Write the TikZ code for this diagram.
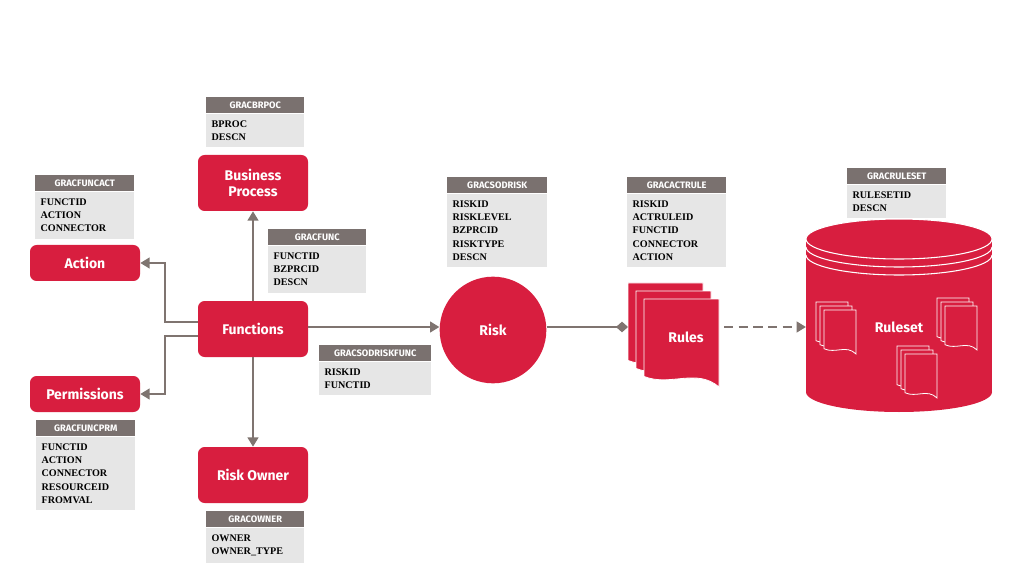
\documentclass[tikz,border=0pt]{standalone}
\usepackage{fontspec}
\setmainfont{Liberation Serif}
\newfontfamily\labelfont{Fira Sans}
\usetikzlibrary{arrows.meta}
\usetikzlibrary{positioning}
\definecolor{sapred}{HTML}{D81E3F}
\definecolor{headgray}{HTML}{7A716F}
\definecolor{bodygray}{HTML}{E6E6E6}
\definecolor{linegray}{HTML}{7F7470}
\tikzstyle{entity} = [rectangle, rounded corners=5pt, minimum width=82.5pt, minimum height=42pt, align=center, fill=sapred, text=white, font=\labelfont\bfseries\fontsize{10.5}{12.5}\selectfont]
\tikzstyle{tblhead} = [rectangle, fill=headgray, text=white, inner sep=0pt, minimum height=12pt, align=center, font=\labelfont\bfseries\fontsize{7}{8}\selectfont]
\tikzstyle{tblbody} = [rectangle, fill=bodygray, inner xsep=4pt, inner ysep=5pt, align=left, anchor=north west, font=\bfseries\fontsize{7.6}{10}\selectfont]
\tikzstyle{arrow} = [line width=1.6pt, draw=linegray, -{Triangle[length=7pt,width=8pt]}]
\tikzstyle{page} = [fill=sapred, draw=white, line width=0.6pt]
% table: name, x, y, width, fields
\newcommand{\tbl}[5]{%
  \node (#1) [tblhead, anchor=north west, minimum width=#4*0.75pt] at (#2,#3) {#1};
  \node (#1b) [tblbody, text width=#4*0.75pt-8pt, minimum height=0pt] at (#1.south west) {#5};
}
% stack of pages: x, y, w, h, offset
\newcommand{\docs}[5]{%
  \foreach \i in {0,1,2}{
    \path[page] ({#1+\i*#5},{#2+\i*#5}) -- ++(#3,0) -- ++(0,#4)
      .. controls +({-0.3*#3},{-0.22*#4}) and +({0.35*#3},{0.12*#4}) .. ({#1+\i*#5},{#2+\i*#5+0.88*#4}) -- cycle;
  }
}
\begin{document}
\begin{tikzpicture}[x=0.75pt, y=-0.75pt]
\useasboundingbox (0,0) rectangle (1024,577);

\node (bp) [entity] at (253,183) {Business\\Process};
\node (fn) [entity] at (253,329) {Functions};
\node (ro) [entity] at (253,475) {Risk Owner};
\node (act) [entity, minimum height=27pt] at (85,263) {Action};
\node (prm) [entity, minimum height=27pt] at (85,394) {Permissions};
\node (risk) [circle, fill=sapred, text=white, minimum size=80pt, font=\labelfont\bfseries\fontsize{10.5}{12.5}\selectfont] at (493,330) {Risk};

\tbl{GRACBRPOC}{206}{97}{98}{BPROC\\DESCN}
\tbl{GRACFUNCACT}{35}{175}{99}{FUNCTID\\ACTION\\CONNECTOR}
\tbl{GRACFUNC}{268}{229}{98}{FUNCTID\\BZPRCID\\DESCN}
\tbl{GRACFUNCPRM}{36}{420}{99}{FUNCTID\\ACTION\\CONNECTOR\\RESOURCEID\\FROMVAL}
\tbl{GRACOWNER}{206}{511}{98}{OWNER\\OWNER\_TYPE}
\tbl{GRACSODRISKFUNC}{319}{345}{112}{RISKID\\FUNCTID}
\tbl{GRACSODRISK}{447}{177}{100}{RISKID\\RISKLEVEL\\BZPRCID\\RISKTYPE\\DESCN}
\tbl{GRACACTRULE}{627}{177}{99}{RISKID\\ACTRULEID\\FUNCTID\\CONNECTOR\\ACTION}
\tbl{GRACRULESET}{847}{168}{99}{RULESETID\\DESCN}

% rules
\docs{628}{283}{75}{88}{8}
\node (rules) [text=white, font=\labelfont\bfseries\fontsize{10.5}{12.5}\selectfont] at (686,337) {Rules};
\coordinate (rulesw) at (628,327);

% ruleset cylinder
\fill[sapred] (899,392) ellipse [x radius=93, y radius=20];
\fill[sapred] (806,239) rectangle (992,392);
\filldraw[fill=sapred, draw=white, line width=0.8pt] (899,239) ellipse [x radius=93, y radius=20];
\draw[white, line width=0.8pt] (806,247) arc [start angle=180, end angle=0, x radius=93, y radius=20];
\draw[white, line width=0.8pt] (806,255) arc [start angle=180, end angle=0, x radius=93, y radius=20];
\docs{816}{302}{32}{44}{4}
\docs{937}{298}{32}{44}{4}
\docs{897}{346}{32}{44}{4}
\node (ruleset) [text=white, font=\labelfont\bfseries\fontsize{10.5}{12.5}\selectfont] at (899,327) {Ruleset};
\coordinate (rulesetw) at (806,327);

\draw [arrow] (fn) -- (bp);
\draw [arrow] (fn) -- (ro);
\draw [arrow] (fn.east |- 0,327) -- (risk.west |- 0,327);
\draw [arrow] (fn.west |- 0,322) -- (165,322) |- (act);
\draw [arrow] (fn.west |- 0,336) -- (165,336) |- (prm);
\draw [line width=1.6pt, draw=linegray, -{Diamond[length=9pt,width=8pt]}] (risk.east |- 0,327) -- (rulesw);
\draw [arrow, dashed, dash pattern=on 7pt off 4pt] (724,327) -- (rulesetw);
\end{tikzpicture}
\end{document}
